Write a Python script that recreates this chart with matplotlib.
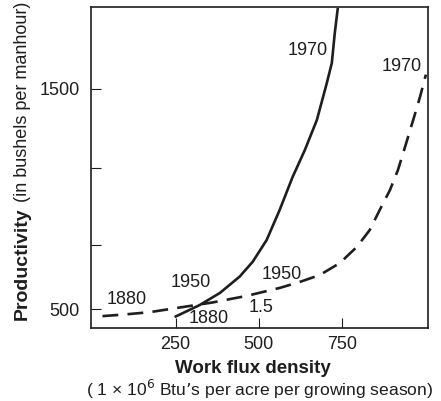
import matplotlib.pyplot as plt

# readings
solid_x = [247, 322, 383, 443, 482, 524, 563, 602, 639, 675, 705, 720, 729, 738]
solid_y = [464, 518, 573, 648, 715, 814, 950, 1100, 1223, 1359, 1527, 1618, 1755, 1868]

dashed_x = [30, 100, 172, 262, 361, 464, 563, 623, 684, 744, 795, 834, 864, 895, 919, 943, 967, 985, 1003]
dashed_y = [468, 476, 486, 507, 530, 560, 596, 623, 655, 709, 782, 859, 950, 1041, 1132, 1250, 1370, 1462, 1565]

x_ticks = [250, 500, 750]
y_ticks = [500, 790, 1140, 1500]
y_tick_labels = ['500', '', '', '1500']

labels = [
    ('1970', 648, 1673),
    ('1970', 931, 1600),
    ('1950', 295, 623),
    ('1950', 569, 655),
    ('1880', 102, 545),
    ('1880', 349, 455),
    ('1.5', 506, 505),
]

plt.rcParams['font.family'] = ['Liberation Sans', 'DejaVu Sans']
ink = '#1e1e1e'

fig = plt.figure(figsize=(4.41, 4.01), dpi=100)
ax = fig.add_axes([0.206, 0.182, 0.765, 0.801])

ax.plot(solid_x, solid_y, color=ink, lw=1.9, solid_capstyle='butt')
ax.plot(dashed_x, dashed_y, color=ink, lw=1.9, dashes=(6, 3.5))

for txt, x, y in labels:
    ax.text(x, y, txt, fontsize=13, color=ink, ha='center', va='center')

ax.set_xlim(-5, 1010)
ax.set_ylim(414, 1873)
ax.set_xticks(x_ticks)
ax.set_yticks(y_ticks)
ax.set_yticklabels(y_tick_labels)
ax.tick_params(direction='in', length=7, width=0.8, labelsize=13, colors=ink)
ax.tick_params(axis='y', pad=8)
ax.tick_params(axis='x', pad=6)
for s in ax.spines.values():
    s.set_linewidth(1.2)
    s.set_color(ink)

fig.text(0.574, 0.08, 'Work flux density', fontsize=13.5, fontweight='bold',
         ha='center', va='center', color=ink)
fig.text(0.588, 0.03, '( 1 \u00d7 10$^6$ Btu\u2019s per acre per growing season)', fontsize=12.6,
         ha='center', va='center', color=ink)

fig.text(0.05, 0.202, 'Productivity', fontsize=14, fontweight='bold', rotation=90,
         ha='center', va='bottom', color=ink)
fig.text(0.05, 0.497, '(in bushels per manhour)', fontsize=13, rotation=90,
         ha='center', va='bottom', color=ink)

fig.savefig('out.png', dpi=100)
